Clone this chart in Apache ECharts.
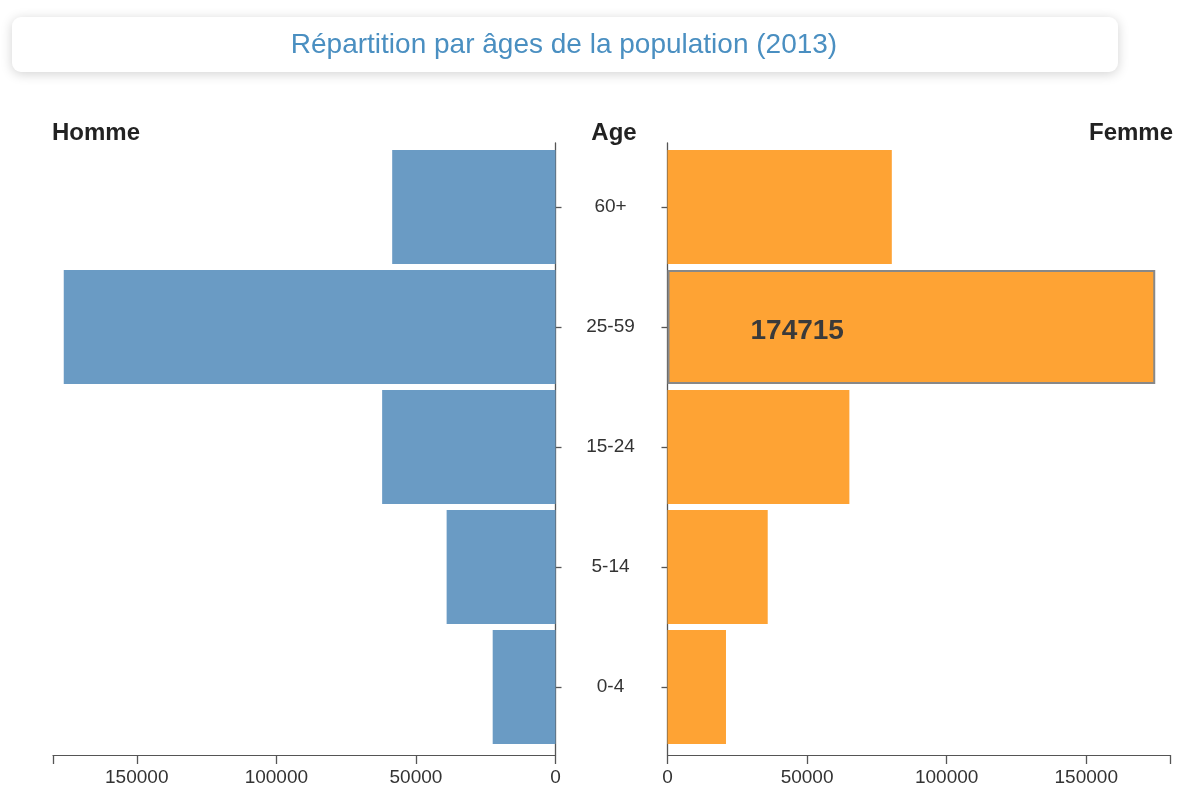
<!DOCTYPE html>
<html>
<head>
<meta charset="utf-8">
<style>
  html, body { margin: 0; padding: 0; background: #fff; }
  #chart { width: 1181px; height: 789px; }
</style>
<script src="https://cdn.jsdelivr.net/npm/echarts@6/dist/echarts.min.js"></script>
</head>
<body>
<div id="chart"></div>
<script>
// ---- data ----
const categories = ['60+', '25-59', '15-24', '5-14', '0-4'];
const hommeValues = [58500, 176150, 62100, 39000, 22500];
const femmeValues = [80350, 174715, 65150, 35900, 20950];
const xMin = 0;
const xMax = 180000;
const xInterval = 50000;
const xTickValues = [0, 50000, 100000, 150000, 180000];
const xLabelValues = [0, 50000, 100000, 150000];
const titleText = 'Répartition par âges de la population (2013)';
const headers = ['Homme', 'Age', 'Femme'];
const highlightIndex = 1;

const FONT = '"Liberation Sans", Arial, sans-serif';
const axisColor = '#555';
const textColor = '#333';

const chart = echarts.init(document.getElementById('chart'), null, { renderer: 'canvas' });

const femmeData = femmeValues.map((v, i) => {
  if (i !== highlightIndex) return v;
  return {
    value: v,
    itemStyle: { borderColor: '#888', borderWidth: 2 },
    label: {
      show: true,
      position: [83, 61],
      align: 'left',
      verticalAlign: 'middle',
      formatter: '{c}',
      fontFamily: FONT,
      fontWeight: 'bold',
      fontSize: 28,
      color: '#3a3a3a'
    }
  };
});

// bar grids (0,1): category bands; axis grids (2,3): visible x axes + long y axis line
const barTop = 147, barHeight = 600;
const axTop = 143, axHeight = 612;
const leftX = 53, rightX = 667.5, gw = 502.5;

function hiddenX(gridIndex, inverse) {
  return {
    type: 'value', gridIndex: gridIndex, inverse: inverse,
    min: xMin, max: xMax, interval: xInterval, show: false,
    splitLine: { show: false }
  };
}
function shownX(gridIndex, inverse) {
  return {
    type: 'value', gridIndex: gridIndex, inverse: inverse, position: 'bottom',
    min: xMin, max: xMax, interval: xInterval,
    splitLine: { show: false },
    axisLine: { show: true, lineStyle: { color: axisColor, width: 1 } },
    axisTick: { show: true, length: 9, customValues: xTickValues, lineStyle: { color: axisColor, width: 1.3 } },
    axisLabel: {
      show: true, margin: 13, customValues: xLabelValues,
      fontFamily: FONT, fontSize: 19, color: textColor,
      formatter: (v) => String(v)
    }
  };
}
function lineY(gridIndex, position) {
  return {
    type: 'value', gridIndex: gridIndex, position: position, min: 0, max: 1,
    splitLine: { show: false },
    axisLine: { show: true, onZero: false, lineStyle: { color: axisColor, width: 1.3 } },
    axisTick: { show: false },
    axisLabel: { show: false }
  };
}

const option = {
  animation: false,
  backgroundColor: '#fff',
  graphic: [
    {
      type: 'rect',
      shape: { x: 12, y: 17, width: 1106, height: 55, r: 9 },
      style: { fill: '#fff', shadowBlur: 12, shadowColor: 'rgba(0,0,0,0.18)', shadowOffsetY: 2 },
      z: 0
    },
    {
      type: 'text',
      x: 564, y: 45,
      style: {
        text: titleText,
        fill: '#4a8fc1',
        font: '28px ' + FONT,
        textAlign: 'center',
        textVerticalAlign: 'middle'
      },
      z: 1
    }
  ],
  title: [
    { text: headers[0], left: 52, top: 121, textStyle: { fontFamily: FONT, fontWeight: 'bold', fontSize: 24, color: '#222' }, padding: 0 },
    { text: headers[1], left: 614, textAlign: 'center', top: 121, textStyle: { fontFamily: FONT, fontWeight: 'bold', fontSize: 24, color: '#222' }, padding: 0 },
    { text: headers[2], right: 8, top: 121, textStyle: { fontFamily: FONT, fontWeight: 'bold', fontSize: 24, color: '#222' }, padding: 0 }
  ],
  grid: [
    { left: leftX, width: gw, top: barTop, height: barHeight },
    { left: rightX, width: gw, top: barTop, height: barHeight },
    { left: leftX, width: gw, top: axTop, height: axHeight },
    { left: rightX, width: gw, top: axTop, height: axHeight }
  ],
  xAxis: [hiddenX(0, true), hiddenX(1, false), shownX(2, true), shownX(3, false)],
  yAxis: [
    {
      type: 'category', gridIndex: 0, data: categories, inverse: true, position: 'right',
      axisLine: { show: false },
      axisTick: { show: true, length: 6, alignWithLabel: true, lineStyle: { color: axisColor, width: 1.3 } },
      axisLabel: { show: false }
    },
    {
      type: 'category', gridIndex: 1, data: categories, inverse: true, position: 'left',
      axisLine: { show: false },
      axisTick: { show: true, length: 6, alignWithLabel: true, lineStyle: { color: axisColor, width: 1.3 } },
      axisLabel: { show: true, align: 'center', margin: 57, fontFamily: FONT, fontSize: 19, color: textColor }
    },
    lineY(2, 'right'),
    lineY(3, 'left')
  ],
  series: [
    {
      name: 'Homme', type: 'bar', xAxisIndex: 0, yAxisIndex: 0,
      data: hommeValues, barCategoryGap: '5%',
      itemStyle: { color: '#6a9bc4' }
    },
    {
      name: 'Femme', type: 'bar', xAxisIndex: 1, yAxisIndex: 1,
      data: femmeData, barCategoryGap: '5%',
      itemStyle: { color: '#fea334' }
    }
  ]
};

chart.setOption(option);
</script>
</body>
</html>
